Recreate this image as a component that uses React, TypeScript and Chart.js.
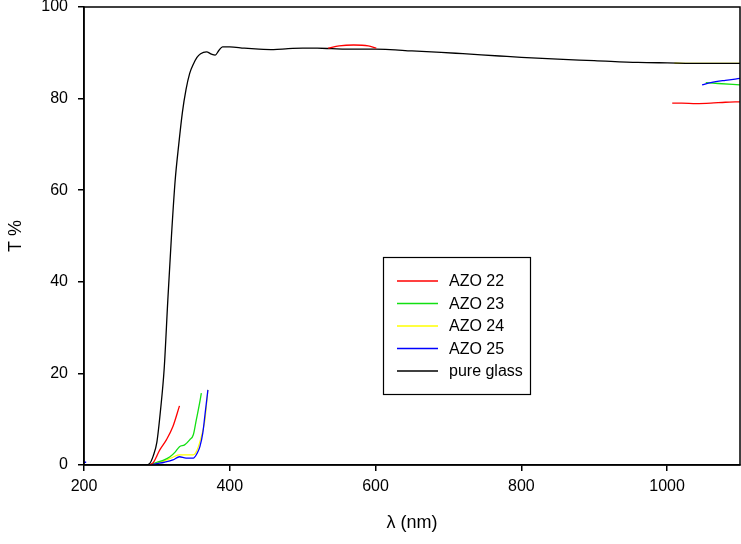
import React, { useEffect, useRef } from "react";
import { Chart, registerables } from "chart.js";
Chart.register(...registerables);

type P = { x: number; y: number | null };

const xTicks = [200, 400, 600, 800, 1000];
const yTicks = [0, 20, 40, 60, 80, 100];
const seriesLabels = ["AZO 22", "AZO 23", "AZO 24", "AZO 25", "pure glass"];
const seriesColors = ["#ff0000", "#12e012", "#ffff00", "#0000ff", "#000000"];
const drawOrder = [1, 3, 5, 2, 4];

const azo22: [number, number | null][] = [
  [290, 0], [295, 0.5], [300, 2], [304, 3.3], [313, 5.5], [322, 8.4], [331, 12.9], [332, null],
  [535, 91], [550, 91.5], [570, 91.7], [590, 91.5], [601, 91.0], [602, null],
  [1007, 79.0], [1020, 79.0], [1040, 78.9], [1060, 79.0], [1080, 79.2], [1100, 79.3],
];
const azo23: [number, number | null][] = [
  [290, 0], [300, 0.6], [310, 1.1], [318, 1.8], [325, 2.8], [331, 4], [338, 4.4], [345, 5.5],
  [350, 6.6], [354, 9.8], [358, 13], [361, 15.7], [362, null],
  [1053, 83.5], [1070, 83.3], [1100, 83.0],
];
const azo24: [number, number | null][] = [
  [290, 0], [300, 0.4], [310, 0.9], [322, 1.7], [331, 2.2], [340, 2.2], [350, 2.2], [355, 3.2],
  [359, 5.1], [363, 7.5], [366, 9.8], [370, 16.4], [371, null],
  [1010, 87.75], [1050, 87.7], [1100, 87.7],
];
const azo25: [number, number | null][] = [
  [200, 0.6], [203, 0.6], [204, null],
  [290, 0], [300, 0.3], [310, 0.6], [322, 1.1], [331, 1.8], [340, 1.5], [350, 1.5], [355, 2.5],
  [359, 4.0], [363, 7], [366, 11], [370, 16.4], [371, null],
  [1048, 83.0], [1060, 83.5], [1080, 84.0], [1100, 84.4],
];
const pureGlass: [number, number | null][] = [
  [200, 0], [250, 0], [285, 0], [290, 0.3], [295, 2], [300, 5], [305, 12], [310, 21], [315, 36],
  [320, 50], [325, 62], [330, 70], [335, 77], [340, 82], [345, 85.5], [350, 87.5], [355, 89],
  [360, 89.8], [368, 90.2], [375, 89.7], [380, 89.5], [385, 90.5], [390, 91.3], [400, 91.3],
  [420, 91], [440, 90.8], [460, 90.7], [480, 90.9], [500, 91], [520, 91], [540, 90.9],
  [560, 90.8], [580, 90.8], [600, 90.8], [620, 90.7], [650, 90.4], [690, 90.1], [720, 89.8],
  [770, 89.3], [800, 89.0], [850, 88.6], [900, 88.3], [960, 87.9], [1000, 87.8], [1050, 87.7],
  [1100, 87.7],
];

const seriesData = [azo22, azo23, azo24, azo25, pureGlass];

const FONT = "'Liberation Sans', Arial, sans-serif";

const framePlugin = {
  id: "frame",
  afterDatasetsDraw(chart: any) {
    const { ctx, chartArea: a } = chart;
    ctx.save();
    ctx.strokeStyle = "#000";
    ctx.lineWidth = 1.5;
    ctx.strokeRect(a.left, a.top, a.right - a.left, a.bottom - a.top);
    ctx.restore();
  },
  afterDraw(chart: any) {
    const { ctx } = chart;
    ctx.save();
    ctx.strokeStyle = "#000";
    ctx.lineWidth = 1.2;
    ctx.strokeRect(383.5, 257.5, 147, 137);
    ctx.font = `16px ${FONT}`;
    ctx.textBaseline = "middle";
    ctx.fillStyle = "#000";
    seriesLabels.forEach((label, i) => {
      const y = 281 + i * 22.5;
      ctx.strokeStyle = seriesColors[i];
      ctx.lineWidth = 1.3;
      ctx.beginPath();
      ctx.moveTo(397, y);
      ctx.lineTo(438, y);
      ctx.stroke();
      ctx.fillText(label, 449, y + 1);
    });
    ctx.restore();
  },
};

export default function App() {
  const ref = useRef<HTMLCanvasElement | null>(null);
  useEffect(() => {
    if (!ref.current) return;
    const chart = new Chart(ref.current, {
      type: "line",
      data: {
        datasets: seriesLabels.map((label, i) => ({
          label,
          data: seriesData[i].map(([x, y]) => ({ x, y })) as P[],
          borderColor: seriesColors[i],
          backgroundColor: seriesColors[i],
          borderWidth: i === 2 ? 1.1 : 1.3,
          pointRadius: 0,
          fill: false,
          spanGaps: false,
          cubicInterpolationMode: "monotone",
          order: drawOrder[i],
        })),
      },
      options: {
        responsive: false,
        animation: false,
        layout: { padding: { top: 7, right: 1, left: 0, bottom: 0 } },
        plugins: { legend: { display: false }, tooltip: { enabled: false } },
        scales: {
          x: {
            type: "linear",
            min: 200,
            max: 1100,
            afterBuildTicks: (s: any) => {
              s.ticks = xTicks.map((v) => ({ value: v }));
            },
            afterFit: (s: any) => {
              s.height = 79;
              s.paddingLeft = 0;
              s.paddingRight = 0;
            },
            grid: { drawOnChartArea: false, drawTicks: true, tickLength: 6, color: "#000", lineWidth: 1.5 },
            border: { display: true, color: "#000", width: 1.5 },
            ticks: {
              color: "#000",
              font: { family: FONT, size: 16 },
              padding: 6,
              maxRotation: 0,
              callback: (v: any) => String(v),
            },
            title: {
              display: true,
              text: "λ (nm)",
              color: "#000",
              font: { family: FONT, size: 18 },
              padding: { top: 0, bottom: 10 },
            },
          },
          y: {
            type: "linear",
            min: 0,
            max: 100,
            afterBuildTicks: (s: any) => {
              s.ticks = yTicks.map((v) => ({ value: v }));
            },
            afterFit: (s: any) => {
              s.width = 84;
              s.paddingTop = 0;
              s.paddingBottom = 0;
            },
            grid: { drawOnChartArea: false, drawTicks: true, tickLength: 6, color: "#000", lineWidth: 1.5 },
            border: { display: true, color: "#000", width: 1.5 },
            ticks: {
              color: "#000",
              font: { family: FONT, size: 16 },
              padding: 10,
              callback: (v: any) => String(v),
            },
            title: {
              display: true,
              text: "T %",
              color: "#000",
              font: { family: FONT, size: 18 },
              padding: { top: 5, bottom: 0 },
            },
          },
        },
      },
      plugins: [framePlugin],
    } as any);
    return () => chart.destroy();
  }, []);
  return (
    <div style={{ position: "absolute", left: 0, top: 0, width: 741, height: 544, background: "#fff" }}>
      <canvas ref={ref} width={741} height={544} style={{ display: "block" }} />
    </div>
  );
}
